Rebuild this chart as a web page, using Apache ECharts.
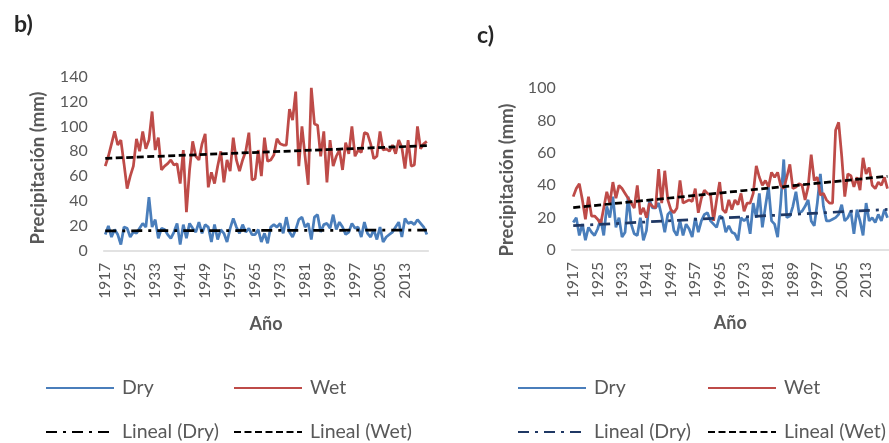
<!DOCTYPE html>
<html><head><meta charset="utf-8">
<script src="https://cdn.jsdelivr.net/npm/echarts@6/dist/echarts.min.js"></script>
<style>html,body{margin:0;padding:0;background:#fff}#c{width:889px;height:443px}</style>
</head><body><div id="c"></div>
<script>
var years = [];
for (var y = 1917; y <= 2020; y++) years.push(String(y));

var bDry = [13,20,11,17,13,5,19,18,11,15,14,18,22,19,43,19,25,10,18,17,13,10,15,22,5,21,10,22,18,15,23,14,21,19,7,21,9,17,14,7,18,26,19,14,21,15,18,13,13,17,7,14,6,19,21,19,22,14,27,15,11,17,25,27,19,22,9,27,29,15,21,22,18,29,17,23,19,13,15,22,18,19,11,23,14,11,17,9,19,7,11,13,15,19,23,11,26,22,23,21,25,22,19,13];
var bWet = [68,76,86,96,85,89,70,50,60,68,90,80,96,82,89,112,81,91,65,68,70,73,69,70,54,81,31,65,88,76,73,86,94,51,63,54,68,80,55,73,64,91,73,64,73,80,95,57,58,81,60,91,72,73,77,90,86,85,85,114,105,128,68,100,76,53,131,102,101,76,96,55,89,68,76,81,65,87,78,100,76,81,79,95,94,86,74,76,96,81,82,80,85,78,89,83,66,89,68,69,100,82,86,88];
var cDry = [17,20,9,16,6,14,11,9,13,19,9,27,20,33,14,20,8,11,33,16,10,9,20,6,12,31,26,26,29,21,11,22,24,12,9,18,9,16,13,8,20,11,18,22,23,18,16,14,21,20,11,15,11,10,6,20,18,20,10,29,20,35,14,27,39,18,16,8,29,56,20,21,27,36,23,24,27,31,18,15,29,47,27,18,18,19,20,22,28,18,20,24,10,25,18,9,29,18,20,17,22,18,25,20];
var cWet = [33,38,41,31,19,33,21,21,19,16,26,36,29,42,32,40,38,35,32,29,26,40,22,26,20,29,27,26,50,29,49,31,25,23,26,43,29,30,31,30,38,23,32,37,35,34,18,31,42,25,23,31,25,31,28,35,24,29,29,35,52,45,40,43,39,48,45,48,40,38,45,53,38,39,41,40,31,39,59,43,45,34,35,31,29,29,74,79,58,33,47,46,39,45,37,57,47,51,40,38,42,40,45,38];

// trend line end values (first year, last year)
var bDryTrend = [16.0, 16.6];
var bWetTrend = [74.3, 84.5];
var cDryTrend = [15.0, 25.1];
var cWetTrend = [26.2, 45.6];

var bTicks = [0, 140, 20];
var cTicks = [0, 100, 20];

var BLUE = '#4A7EBB', RED = '#BE4B48', GREY = '#595959';
var FONT = "Lato, 'Open Sans', sans-serif";

function ends(arr) { return [[years[0], arr[0]], [years[years.length - 1], arr[1]]]; }

function xAxis(gi) {
  return {
    type: 'category', gridIndex: gi, data: years, boundaryGap: true,
    axisLine: { lineStyle: { color: '#D9D9D9', width: 1.5 } },
    axisTick: { show: false },
    axisLabel: { interval: 7, rotate: 90, color: GREY, fontFamily: FONT, fontSize: 15.5, margin: 12 },
    name: 'Año', nameLocation: 'middle', nameGap: 64,
    nameTextStyle: { color: GREY, fontFamily: FONT, fontSize: 18, fontWeight: 'bold' },
    splitLine: { show: false }
  };
}
function yAxis(gi, t) {
  return {
    type: 'value', gridIndex: gi, min: t[0], max: t[1], interval: t[2],
    axisLine: { show: false }, axisTick: { show: false }, splitLine: { show: false },
    axisLabel: { color: GREY, fontFamily: FONT, fontSize: 16, margin: 16 }
  };
}
function yTitle(x, y) {
  return { type: 'text', x: x, y: y, rotation: Math.PI / 2,
    style: { text: 'Precipitación (mm)', fill: GREY, font: "bold 18.5px Lato, 'Open Sans', sans-serif",
      align: 'center', verticalAlign: 'middle' } };
}
function line(name, gi, data, color) {
  return { name: name, type: 'line', xAxisIndex: gi, yAxisIndex: gi, data: data,
    symbol: 'none', lineStyle: { color: color, width: 2.75 }, itemStyle: { color: color }, z: 2, animation: false };
}
function trend(name, gi, vals, color, dash) {
  return { name: name, type: 'line', xAxisIndex: gi, yAxisIndex: gi, data: ends(vals),
    symbol: 'none', lineStyle: { color: color, width: 2.75, type: dash }, itemStyle: { color: color }, z: 3, animation: false };
}

var chart = echarts.init(document.getElementById('c'), null, { renderer: 'canvas' });
chart.setOption({
  animation: false,
  title: [
    { text: 'b)', left: 9, top: 8, textStyle: { fontFamily: FONT, fontSize: 23, fontWeight: 'bold', color: '#262626' } },
    { text: 'c)', left: 472, top: 19, textStyle: { fontFamily: FONT, fontSize: 23, fontWeight: 'bold', color: '#262626' } }
  ],
  graphic: [yTitle(38, 168), yTitle(507, 180)],
  grid: [
    { left: 103.7, top: 76.7, width: 324.7, height: 174 },
    { left: 571.7, top: 88.3, width: 332, height: 161.7 }
  ],
  xAxis: [xAxis(0), xAxis(1)],
  yAxis: [yAxis(0, bTicks), yAxis(1, cTicks)],
  legend: [
    { data: ['Dry'], left: 45, top: 378 },
    { data: ['Wet'], left: 233, top: 378 },
    { data: ['Lineal (Dry)'], left: 45, top: 422 },
    { data: ['Lineal (Wet)'], left: 233, top: 422 },
    { data: ['Dry '], left: 517, top: 378 },
    { data: ['Wet '], left: 707, top: 378 },
    { data: ['Lineal (Dry) '], left: 517, top: 422 },
    { data: ['Lineal (Wet) '], left: 707, top: 422 }
  ].map(function (l) {
    return Object.assign(l, { padding: 0, itemWidth: 68, itemHeight: 20, itemGap: 0, selectedMode: false,
      itemStyle: { opacity: 0 },
      formatter: function (n) { return n.trim(); },
      textStyle: { color: GREY, fontFamily: FONT, fontSize: 19.5, lineHeight: 20, padding: [0, 0, 0, 3] } });
  }),
  series: [
    line('Dry', 0, bDry, BLUE),
    line('Wet', 0, bWet, RED),
    trend('Lineal (Dry)', 0, bDryTrend, '#000000', [11, 6, 3, 6]),
    trend('Lineal (Wet)', 0, bWetTrend, '#000000', [7, 3.5]),
    line('Dry ', 1, cDry, BLUE),
    line('Wet ', 1, cWet, RED),
    trend('Lineal (Dry) ', 1, cDryTrend, '#1F3864', [11, 6, 3, 6]),
    trend('Lineal (Wet) ', 1, cWetTrend, '#000000', [7, 3.5])
  ]
});
</script></body></html>
